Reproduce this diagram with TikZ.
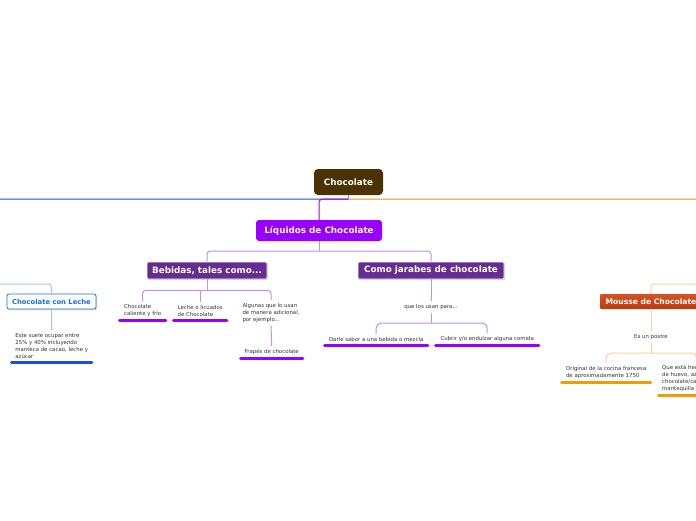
\documentclass[tikz,border=0pt]{standalone}
\usepackage{fontspec}
\setmainfont{DejaVu Sans}
\usetikzlibrary{positioning, shadows, calc}

\definecolor{cocoa}{HTML}{4B3205}
\definecolor{stemrose}{HTML}{C77C6E}
\definecolor{branchblue}{HTML}{2352D2}
\definecolor{branchorange}{HTML}{EA9020}
\definecolor{liqviolet}{HTML}{9900FF}
\definecolor{lilac}{HTML}{C58CF2}
\definecolor{plum}{HTML}{662D91}
\definecolor{lecheblue}{HTML}{1A6FE0}
\definecolor{paleblue}{HTML}{A9C0F2}
\definecolor{uleche}{HTML}{1A4FE0}
\definecolor{moussetop}{HTML}{D65220}
\definecolor{moussebot}{HTML}{BC3A14}
\definecolor{paleorange}{HTML}{FAD49A}
\definecolor{umousse}{HTML}{F59B00}
\definecolor{inkgray}{HTML}{333333}

\begin{document}
\begin{tikzpicture}[x=1pt, y=-1pt,
    topic/.style={rectangle, rounded corners=3pt, text=white, inner sep=0pt, align=center, font=\fontsize{8.8}{10}\selectfont\bfseries},
    subtopic/.style={topic, rounded corners=1pt, fill=plum, draw=white, line width=0.8pt, drop shadow={opacity=0.35, shadow xshift=1pt, shadow yshift=-1pt}},
    leaf/.style={font=\fontsize{5.4}{7}\selectfont, text=inkgray, inner xsep=0pt, inner ysep=3pt, align=left},
    uline/.style={line width=3pt, line cap=round},
    link/.style={line width=1pt, rounded corners=3pt},
    bracket/.style={line width=1pt, rounded corners=5pt}
]
\path[fill=white, use as bounding box] (0,0) rectangle (696,520);
\clip (0,0) rectangle (696,520);

% main topics
\node[topic, fill=cocoa, minimum width=69pt, minimum height=26pt, rounded corners=4pt] (choc) at (348.5,182) {Chocolate};
\node[topic, fill=liqviolet, minimum width=126pt, minimum height=21pt] (liquidos) at (319,230.5) {Líquidos de Chocolate};
\node[subtopic, minimum width=120pt, minimum height=17pt] (bebidas) at (207,270.5) {Bebidas, tales como...};
\node[subtopic, minimum width=146pt, minimum height=17pt] (jarabes) at (431,270.5) {Como jarabes de chocolate};
\node[topic, fill=white, draw=lecheblue, text=lecheblue, line width=0.8pt, rounded corners=2pt, minimum width=89pt, minimum height=15pt, font=\fontsize{6.8}{8}\selectfont\bfseries, drop shadow={opacity=0.3, shadow xshift=1pt, shadow yshift=-1pt}] (leche) at (51.5,301.5) {Chocolate con Leche};
\node[topic, top color=moussetop, bottom color=moussebot, rounded corners=1pt, minimum width=102pt, minimum height=15pt, font=\fontsize{7.6}{9}\selectfont\bfseries] (mousse) at (651,301.5) {Mousse de Chocolate};

% leaves
\node[leaf, anchor=south west, minimum width=46pt] (calfrio) at (119.5,320) {Chocolate\\caliente y frío};
\node[leaf, anchor=south west, minimum width=53pt] (licuados) at (173.5,320) {Leche o licuados\\de Chocolate};
\node[leaf, anchor=north] (algunas) at (271,300) {Algunas que lo usan\\de manera adicional,\\por ejemplo...};
\node[leaf, anchor=south west, minimum width=62pt, align=center] (frapes) at (240.5,358) {Frapés de chocolate};
\node[leaf] (usan) at (431,307) {que los usan para...};
\node[leaf, anchor=south west, minimum width=103pt, align=center] (darle) at (324.5,345) {Darle sabor a una bebida o mezcla};
\node[leaf, anchor=south west, minimum width=103pt, align=center] (cubrir) at (435.5,345) {Cubrir y/o endulzar alguna comida};
\node[leaf, anchor=south west, minimum width=80pt] (este) at (11.5,362) {Este suele ocupar entre\\25\% y 40\% incluyendo\\manteca de cacao, leche y\\azúcar};
\node[leaf] (postre) at (651,337) {Es un postre};
\node[leaf, anchor=south west, minimum width=89pt] (original) at (561.5,382) {Original de la cocina francesa\\de aproximadamente 1750};
\node[leaf, anchor=south west, inner xsep=5pt] (que) at (657,395) {Que está hecho de claras\\de huevo, azúcar,\\chocolate/cacao y\\mantequilla};

% branches from the root
\coordinate (solidos) at (-10,199);
\coordinate (postres) at (710,199);
\coordinate (chocfork) at ($(choc.south)+(0,4)$);
\draw[link, branchblue] (chocfork) -- (solidos);
\draw[link, branchorange] (chocfork) -- (postres);
\draw[link, liqviolet] (chocfork) -| (liquidos.north);
\draw[link, stemrose] (choc.south) -- (chocfork);

\draw[link, lilac] (liquidos.south) -- ++(0,10);
\draw[link, lilac] (bebidas.north) |- ($(liquidos.south)+(0,10)$) -| (jarabes.north);

% bebidas
\coordinate (bebfork) at ($(bebidas.south)+(0,11)$);
\draw[link, lilac] (bebidas.south) -- (bebfork);
\draw[link, lilac] (calfrio.north) |- (bebfork) -| (algunas.north);
\draw[link, lilac] (licuados.north) -- (licuados.north |- bebfork);
\draw[link, lilac] (algunas.south) -- (frapes.north);

% jarabes
\coordinate (usanfork) at (431,323);
\draw[link, lilac] (jarabes.south) -- (usan.north);
\draw[link, lilac] (usan.south) -- (usanfork);
\draw[bracket, lilac] (darle.north) |- (usanfork) -| (cubrir.north);

% leche
\coordinate (solidfork) at (-10,284);
\draw[link, paleblue] (solidfork) -| (leche.north);
\draw[link, paleblue] (leche.south) -- (este.north);

% mousse
\coordinate (postrefork) at (710,284);
\coordinate (mousfork) at (651,353);
\draw[link, paleorange] (postrefork) -| (mousse.north);
\draw[link, paleorange] (mousse.south) -- (postre.north);
\draw[link, paleorange] (postre.south) -- (mousfork);
\draw[bracket, paleorange] (original.north) |- (mousfork) -| (que.north);

% underlines
\draw[uline, liqviolet] (calfrio.south west) -- (calfrio.south east);
\draw[uline, liqviolet] (licuados.south west) -- (licuados.south east);
\draw[uline, liqviolet] (frapes.south west) -- (frapes.south east);
\draw[uline, liqviolet] (darle.south west) -- (darle.south east);
\draw[uline, liqviolet] (cubrir.south west) -- (cubrir.south east);
\draw[uline, uleche] (este.south west) -- (este.south east);
\draw[uline, umousse] (original.south west) -- (original.south east);
\draw[uline, umousse] ([xshift=1.5pt]que.south west) -- (que.south east);
\end{tikzpicture}
\end{document}
